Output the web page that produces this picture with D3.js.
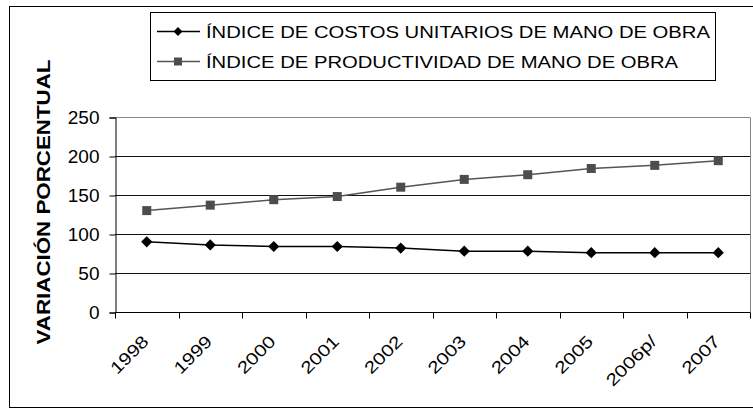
<!DOCTYPE html>
<html>
<head>
<meta charset="utf-8">
<script src="https://cdn.jsdelivr.net/npm/d3@7"></script>
<style>
  body { margin: 0; background: #fff; }
  text { font-family: "Liberation Sans", Arial, sans-serif; }
</style>
</head>
<body>
<script>
var years = ["1998", "1999", "2000", "2001", "2002", "2003", "2004", "2005", "2006p/", "2007"];
var costos = [90, 86, 84, 84, 82, 78, 78, 76, 76, 76];
var productividad = [130, 137, 144, 148, 160, 170, 176, 184, 188, 194];
var yTicks = [0, 50, 100, 150, 200, 250];
var seriesNames = ["ÍNDICE DE COSTOS UNITARIOS DE MANO DE OBRA", "ÍNDICE DE PRODUCTIVIDAD DE MANO DE OBRA"];

var w = 753, h = 410;
var pLeft = 115, pRight = 750, pTop = 117, pBottom = 312;

var svg = d3.select("body").append("svg")
    .attr("width", w)
    .attr("height", h);

// stretch text horizontally (the source font is wider than Liberation Sans)
function stretch(sel, k) {
    sel.each(function() {
        var len = this.getComputedTextLength();
        d3.select(this).attr("textLength", len * k).attr("lengthAdjust", "spacingAndGlyphs");
    });
}

// outer frame (runs off the right/bottom edge in the original)
svg.append("rect")
    .attr("x", 9.5).attr("y", 6.5)
    .attr("width", 760).attr("height", 401)
    .attr("fill", "none").attr("stroke", "#000").attr("stroke-width", 1);

var x = d3.scaleBand().domain(years).range([pLeft, pRight]);
var y = d3.scaleLinear().domain([0, 250]).range([pBottom, pTop]);

// gridlines
svg.append("g")
    .selectAll("line")
    .data(yTicks.filter(d => d > 0 && d < 250))
    .enter().append("line")
    .attr("x1", pLeft).attr("x2", pRight)
    .attr("y1", d => Math.round(y(d)) + 0.5)
    .attr("y2", d => Math.round(y(d)) + 0.5)
    .attr("stroke", "#111");

// plot area border top/right (grey)
svg.append("path")
    .attr("d", "M" + pLeft + "," + (Math.round(y(250)) + 0.5) + "H" + (pRight + 0.5) + "V" + pBottom)
    .attr("fill", "none").attr("stroke", "#888");

// y axis
var yAxis = d3.axisLeft(y).tickValues(yTicks).tickSize(6).tickPadding(10);
var gy = svg.append("g")
    .attr("transform", "translate(" + (pLeft + 0.5) + ",0.5)")
    .call(yAxis);
gy.select(".domain").attr("stroke", "#000");
gy.selectAll("text").attr("font-size", 19).attr("fill", "#000")
    .style("font-family", "Liberation Sans, Arial, sans-serif");

// x axis with ticks at band boundaries
var gx = svg.append("g")
    .attr("transform", "translate(0," + (Math.round(y(0)) + 0.5) + ")");
gx.append("line").attr("x1", pLeft).attr("x2", pRight + 0.5).attr("stroke", "#000");
gx.selectAll("line.tk")
    .data(years.concat(["end"]))
    .enter().append("line")
    .attr("class", "tk")
    .attr("x1", (d, i) => Math.round(pLeft + i * x.step()) + 0.5)
    .attr("x2", (d, i) => Math.round(pLeft + i * x.step()) + 0.5)
    .attr("y1", 0).attr("y2", 6)
    .attr("stroke", "#000");
gx.selectAll("text")
    .data(years)
    .enter().append("text")
    .attr("transform", d => "translate(" + (x(d) + x.bandwidth() / 2 + 3) + ",30) rotate(-45)")
    .attr("text-anchor", "end")
    .attr("font-size", 17)
    .text(d => d)
    .call(stretch, 1.22);

// y axis title
svg.append("text")
    .attr("transform", "translate(50,202) rotate(-90)")
    .attr("text-anchor", "middle")
    .attr("font-size", 18)
    .attr("font-weight", "bold")
    .text("VARIACIÓN PORCENTUAL")
    .call(stretch, 1.24);

var line = d3.line()
    .x((d, i) => x(years[i]) + x.bandwidth() / 2)
    .y(d => y(d));

// productividad
svg.append("path")
    .datum(productividad)
    .attr("d", line)
    .attr("fill", "none").attr("stroke", "#555").attr("stroke-width", 1.5);
svg.selectAll("rect.sq")
    .data(productividad)
    .enter().append("rect")
    .attr("class", "sq")
    .attr("x", (d, i) => x(years[i]) + x.bandwidth() / 2 - 4.5)
    .attr("y", d => y(d) - 4.5)
    .attr("width", 9).attr("height", 9)
    .attr("fill", "#4d4d4d");

// costos
svg.append("path")
    .datum(costos)
    .attr("d", line)
    .attr("fill", "none").attr("stroke", "#000").attr("stroke-width", 1.5);
svg.selectAll("path.dm")
    .data(costos)
    .enter().append("path")
    .attr("class", "dm")
    .attr("d", d3.symbol().type(d3.symbolDiamond2).size(80))
    .attr("transform", (d, i) => "translate(" + (x(years[i]) + x.bandwidth() / 2) + "," + y(d) + ")")
    .attr("fill", "#000");

// legend
var lg = svg.append("g");
lg.append("rect")
    .attr("x", 150.5).attr("y", 12.5)
    .attr("width", 565).attr("height", 68)
    .attr("fill", "#fff").attr("stroke", "#000");
var rows = [31, 61];
seriesNames.forEach(function(name, i) {
    var cy = rows[i];
    lg.append("line")
        .attr("x1", 157).attr("x2", 200)
        .attr("y1", cy + 0.5).attr("y2", cy + 0.5)
        .attr("stroke", i === 0 ? "#000" : "#555").attr("stroke-width", 1.5);
    if (i === 0) {
        lg.append("path").attr("d", d3.symbol().type(d3.symbolDiamond2).size(50))
            .attr("transform", "translate(178," + (cy + 0.5) + ")").attr("fill", "#000");
    } else {
        lg.append("rect").attr("x", 174).attr("y", cy - 3.5)
            .attr("width", 8).attr("height", 8).attr("fill", "#4d4d4d");
    }
    lg.append("text")
        .attr("x", 206).attr("y", cy + 6.5)
        .attr("font-size", 17)
        .text(name)
        .call(stretch, 1.19);
});
</script>
</body>
</html>
